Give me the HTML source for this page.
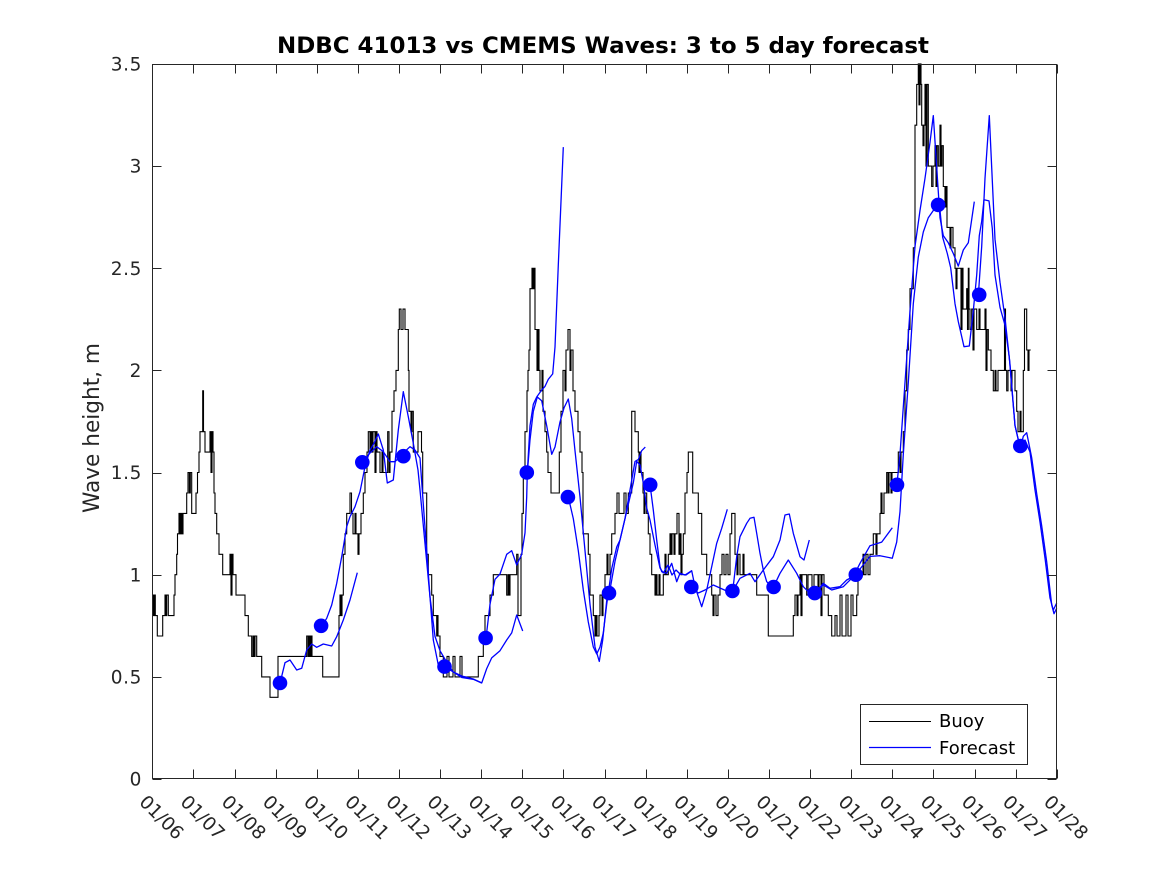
<!DOCTYPE html>
<html><head><meta charset="utf-8">
<style>
html,body{margin:0;padding:0;background:#fff;width:1167px;height:875px;overflow:hidden}
svg{display:block}
text{font-family:"DejaVu Sans","Liberation Sans",sans-serif}
</style></head>
<body>
<svg id="c" width="1167" height="875" viewBox="0 0 1167 875" xmlns="http://www.w3.org/2000/svg">
<rect width="1167" height="875" fill="#fff"/>
<text x="277" y="53" font-size="22" font-weight="bold" fill="#000" textLength="652" lengthAdjust="spacingAndGlyphs">NDBC 41013 vs CMEMS Waves: 3 to 5 day forecast</text>
<text transform="translate(99,428) rotate(-90)" text-anchor="middle" font-size="22" fill="#262626" textLength="170" lengthAdjust="spacingAndGlyphs">Wave height, m</text>
</svg>
<script>
(function(){
const NS="http://www.w3.org/2000/svg";
const svg=document.getElementById('c');
function el(tag,attrs,parent,text){const e=document.createElementNS(NS,tag);for(const k in attrs)e.setAttribute(k,attrs[k]);if(text!==undefined)e.textContent=text;(parent||svg).appendChild(e);return e;}
const yv=v=>779-v*204.3;
const XL=152.5,XR=1056.5,YB=778.5,YT=64.5;

const g=el('g',{});

// Buoy
const B=[[152.3,0.9],[153.5,0.8],[154.5,0.9],[155.3,0.8],[157.3,0.7],[162.7,0.8],[165,0.9],[166,0.8],[166.7,0.9],[168.3,0.8],[174,0.9],[175,1.0],[176.7,1.1],[177.5,1.2],[179,1.3],[180,1.2],[181,1.3],[182,1.2],[183,1.3],[186.7,1.4],[188,1.5],[189.3,1.4],[190.3,1.5],[191.7,1.3],[196,1.4],[197.5,1.5],[199,1.6],[200,1.7],[202.7,1.9],[203.5,1.7],[205,1.6],[207.3,1.6],[210,1.7],[211,1.5],[212,1.7],[213,1.6],[214,1.4],[215,1.3],[216.7,1.2],[219,1.1],[222.7,1.0],[230,1.1],[231,0.9],[232,1.1],[233,1.0],[236,0.9],[245,0.8],[248.3,0.7],[251.7,0.6],[253,0.7],[254,0.6],[255,0.7],[256.7,0.6],[261.7,0.5],[270,0.4],[278,0.6],[306.7,0.7],[308,0.6],[309,0.7],[310,0.6],[311,0.7],[312,0.6],[322.7,0.5],[339,0.8],[340,0.9],[341,0.8],[342,0.9],[343.3,1.1],[345,1.2],[346.7,1.3],[350,1.4],[351.5,1.3],[353,1.2],[355,1.3],[356,1.2],[358,1.1],[359,1.2],[361,1.3],[363.3,1.4],[365,1.5],[367,1.6],[368.3,1.7],[370,1.6],[371,1.7],[372,1.6],[373,1.7],[375,1.5],[376,1.7],[377,1.6],[380,1.5],[382,1.6],[383,1.5],[387.7,1.7],[389,1.5],[390,1.6],[392,1.8],[394,1.9],[396,2.0],[398.3,2.2],[399.3,2.3],[401,2.2],[403,2.3],[405,2.2],[408.3,2.0],[409,1.8],[411,1.7],[412,1.8],[413.3,1.6],[418,1.7],[421.5,1.6],[422.7,1.4],[426.7,1.1],[428.3,1.0],[431.7,0.9],[433.3,0.8],[436.7,0.7],[437.3,0.8],[438,0.7],[440,0.6],[443.3,0.5],[447,0.6],[449,0.5],[453,0.6],[455,0.5],[460,0.6],[462,0.5],[478.3,0.6],[483.3,0.7],[485,0.8],[490,0.9],[493.3,1.0],[506.7,0.9],[508,1.0],[509,0.9],[510,1.0],[516.7,1.1],[518,0.8],[521,1.1],[522,1.3],[523.3,1.5],[525,1.7],[527,1.9],[528,2.0],[529,2.1],[530,2.4],[532,2.5],[533,2.4],[534,2.5],[535,2.2],[537,2.0],[538,2.2],[539,2.0],[540,1.9],[542,2.0],[543,1.8],[545,1.7],[546.7,1.6],[548,1.5],[551,1.4],[559.3,1.6],[561,1.8],[563,2.0],[565,1.9],[566,2.1],[568,2.2],[570,2.0],[571,2.1],[573,1.9],[575,1.8],[578,1.7],[580,1.6],[582,1.5],[583,1.2],[588.3,1.1],[590,0.9],[593.3,0.8],[595,0.7],[596,0.8],[597,0.7],[599,0.8],[600,0.9],[602,0.8],[603,0.9],[605,1.0],[607,1.1],[608,1.0],[610,1.1],[611.7,1.2],[615,1.3],[617,1.4],[619,1.3],[624,1.4],[626,1.3],[628.3,1.4],[631.7,1.8],[635,1.7],[638.3,1.6],[639,1.5],[640,1.6],[641,1.5],[643,1.4],[644,1.3],[645,1.4],[646.7,1.3],[648.3,1.2],[650,1.1],[651.7,1.0],[655,0.9],[656,1.0],[657,0.9],[659,1.0],[660,0.9],[663.3,1.0],[665,1.1],[666,1.0],[668.3,1.1],[670,1.2],[671,1.1],[672,1.2],[674,1.1],[675,1.2],[677,1.3],[679,1.1],[680,1.2],[681,1.0],[682,1.1],[683.3,1.2],[685,1.4],[687,1.5],[688.3,1.6],[692.7,1.4],[698.3,1.3],[701.7,1.1],[706.7,1.0],[711.7,0.9],[713,0.8],[714,0.9],[716,0.8],[718,0.9],[720,1.0],[722,1.1],[724,1.0],[726,1.1],[728,1.0],[730,1.2],[731.7,1.3],[735,1.1],[737,1.0],[738,1.1],[740,1.0],[743,1.1],[744,1.0],[756.7,0.9],[768.3,0.7],[793.3,0.8],[795,0.9],[797,0.8],[798,0.9],[800,1.0],[801,0.8],[802,1.0],[806.7,0.9],[808,1.0],[812,0.9],[814,1.0],[818,0.9],[819,1.0],[821,0.8],[822,1.0],[824,0.9],[828.3,0.8],[831.7,0.7],[835,0.8],[837,0.7],[840,0.9],[842,0.7],[846,0.9],[848,0.7],[851,0.9],[853,0.8],[856.7,0.9],[858,1.0],[863,1.1],[864,1.0],[866,1.1],[868,1.0],[870,1.1],[873.3,1.2],[876,1.1],[877,1.2],[880,1.3],[881,1.4],[882,1.3],[884,1.4],[886.7,1.5],[888,1.4],[889,1.5],[891,1.4],[892,1.5],[898.3,1.6],[900,1.5],[901,1.6],[903.3,1.7],[905,1.9],[906.7,2.1],[908.3,2.2],[910,2.4],[913.3,2.6],[915,3.2],[916.7,3.4],[918.3,3.5],[919,3.3],[920,3.5],[921,3.4],[921.7,3.2],[923,3.1],[924,3.2],[925,3.4],[926,3.0],[927,3.4],[928.3,3.0],[931.7,2.9],[933,3.0],[935,3.1],[936,2.9],[937,3.1],[938.3,3.0],[940,3.2],[941,3.0],[942,3.1],[943.3,2.9],[945,2.8],[946,2.9],[947,2.7],[950,2.6],[951,2.7],[953,2.6],[955,2.5],[956,2.4],[957,2.5],[960,2.5],[961,2.2],[962,2.5],[963,2.3],[966.7,2.4],[967.5,2.2],[968.3,2.5],[969,2.3],[970,2.2],[971.7,2.3],[973,2.1],[974,2.3],[976.7,2.2],[979,2.3],[980,2.2],[983,2.2],[985,2.3],[986,2.0],[987,2.2],[988.3,2.1],[991,2.0],[993.3,1.9],[995,2.0],[996,1.9],[998,2.0],[1004.5,2.3],[1005.5,2.0],[1006.7,1.9],[1008,2.0],[1011,1.9],[1012,2.0],[1015,1.9],[1016.7,1.8],[1018,1.7],[1020,1.8],[1021,1.7],[1023.3,2.0],[1024.5,2.3],[1026.7,2.1],[1028,2.0],[1029,2.1]];
let d='M'+B[0][0]+' '+yv(B[0][1]).toFixed(1);
for(let i=1;i<B.length;i++){d+=' H'+B[i][0]+' V'+yv(B[i][1]).toFixed(1);}
d+=' H1030.7';
el('path',{d:d,fill:'none',stroke:'#000','stroke-width':'1.1','stroke-linejoin':'miter'},g);

// Forecast lines
const F=[
[280,683.3,285,662.7,290,660,296.7,670,301.7,668.3,306.7,650,311.7,644,316.7,647.3,323.3,644,331.7,646,336.7,636.7,343.3,620,350,600,357.3,572.7],
[321.7,626,326.7,618.3,331.7,605,336.7,583.3,341.7,556.7,346.7,526.7,350,516.7,355,506.7,360,491.7,365,466.7,370,450,374,443.3,378.3,434,383.3,450,387.3,483,393.3,480,398.3,430,403.3,391.7,408.3,416.7,413.3,443.3,418,470,420,490,425,543.6,430,597,435,636.4,440,650.7,448.3,665,453.3,672,461.7,677.5,473.3,679.3,481.7,682.9],
[362.7,462.3,370,453,376.7,446.7,383.3,451.7,390,461.7,395,461.7,403.3,453,410,446.7,415,450,420,458,423.3,504.3,426.7,550.7,430,597,433.3,640,438.3,665,445,668.6],
[445,667,453.3,672,461.7,676,473.3,679,481.7,683,486.7,668.6,491.7,657.9,500,650.7,506.7,640,511.7,632.9,516.7,615,522.7,631],
[486,638.2,490,604.3,495,579.3,500,574,506.7,554.3,511.7,550.7,516.7,565,521.7,554.3,525,532.9,526.7,497,527.3,472.9,530,425.7,533.3,404.3,536.7,397,541.7,390,545,386.4,548.3,379.3,552.7,373.9,555,347.1,558.3,265,563.3,147.1],
[527.3,472.9,530,440,533.3,411.4,537.3,397,541.7,400.7,546.7,425.7,551.7,454.3,555,447,560,422,564,407.9,568.3,399,571.7,418.6,575,450.7,580,497,585,550.7,590,604.3,595,647,599.3,661.4,602.7,640,606.7,600.7,609.3,593.6],
[568.3,497,573.3,518.6,578.3,550.7,583.3,590,588.3,622,593.3,647,596.7,654,600,647,603.3,632.9,606.7,604.3,611.7,568.6,616.7,547,620,540,625,518.6,630,490,635,461.4,638.3,459.6,641.7,450.7,645.3,447.1],
[609.3,593.6,615,561.4,620,540,626.7,511.4,633.3,482.9,636.7,461.4,640,465,643.3,482.9,646.7,507.9,650,520,655,545,660,568,663.3,573,668,565,672,575,676,570,680,574,686,575,691.7,571],
[650,484.6,653.3,510,656.7,540,660,566.7,661.7,571.7,666.7,573.3,671.7,563.3,676.7,581.7,680,573.3,685,575,691.7,570.7,695,586.7,701.7,606.7,706.7,590,711.7,566.7,716.7,543.3,721.7,528.3,727.3,509.3],
[691.7,587.3,698.3,593,705,590,713.3,585,720,588,726.7,591,732.7,591,736.7,556.7,740,536.7,746.7,523.3,750,518.3,754,517.3,756.7,533.3,760,553.3,763.3,570,766.7,581.7,773.3,588.3],
[732.7,591,740,578.3,750,573.3,755,581.7,763.3,570,773.3,556.7,780,540,785,515,789.3,514,793.3,533.3,800,556.7,804,560,809.3,540],
[773.3,587.3,780,573.3,788.3,560,796.7,573.3,803.3,586.7,810,593.3,815,593.3,823.3,583.3,830,588.3,840,586.7,846.7,580,856,575],
[815,593.3,823.3,585,831.7,590,843.3,586.7,853.3,576.7,860,563.3,870,545.7,881.7,542.1,892.3,527.8],
[856,575,860,569,870,556.4,880,555.7,892.3,558.2,896.7,542.1,900,511.6,903.3,454.3,908.3,382.6,913.3,303.7,918.3,257.1,923.3,232,928.3,217.7,933.3,210.5,938.3,207],
[896.7,486.5,900,454.3,905,382.6,910,310.9,915,246.4,920,210.5,925,178.3,930,142.4,933.3,115.6,936.7,167.5,940,217.7,943.3,235.6,948.3,242.8,953.3,253.5,958.3,266.1,963.3,250,968.3,242.8,974.3,201.6],
[938.3,207,940,210.5,942.7,237.4,947.3,253.5,950.7,267.9,955,303.7,958.3,321.6,964,346.7,969.3,346,973.3,310.9,976.7,275,979.3,235.6,981.7,221.3,984,199.8,989,200.9,992.3,228.5,995,275,1000,307.3,1005,325.2,1009.3,357.5,1015,425.6,1020,447],
[978.3,295.8,981.7,246.4,985,178.3,989.3,115.6,991.7,167.5,995,239.2,1000,282.2,1005,318,1010,364.5,1015,425.6,1020,447,1025,440,1030,452,1035,490,1040,522,1045,558,1050,598,1053.3,610,1056.7,603],
[1020.7,447,1023.3,436.3,1026.7,432.7,1031.7,457.8,1036.7,493.7,1041.7,525.9,1046.7,561.8,1051.7,604.8,1054,613.7,1056.7,608.3]
];
F.forEach(a=>{let p='';for(let i=0;i<a.length;i+=2)p+=(i?' ':'')+a[i]+','+a[i+1];
 el('polyline',{points:p,fill:'none',stroke:'#0000ff','stroke-width':'1.3','stroke-linejoin':'round'},g);});

// Dots
const DV=[0.47,0.75,1.55,1.58,0.55,0.69,1.50,1.38,0.91,1.44,0.94,0.92,0.94,0.91,1.00,1.44,2.81,2.37,1.63];
DV.forEach((v,k)=>el('circle',{cx:(280+k*41.13).toFixed(1),cy:yv(v).toFixed(1),r:'7.3',fill:'#0000ff'},g));

// Axes box and ticks
const ax=el('g',{stroke:'#262626','stroke-width':'1',fill:'none'});
el('rect',{x:XL,y:YT,width:XR-XL,height:YB-YT},ax);
let td='';
for(let k=0;k<=22;k++){const x=(152.3+k*41.11).toFixed(1);const xr=Math.round(x)+0.5;
 td+=`M${xr} ${YB}V${YB-9}M${xr} ${YT}V${YT+9}`;}
for(let j=0;j<=7;j++){const y=Math.round(779-j*0.5*204.3)+0.5;
 td+=`M${XL} ${y}H${XL+9}M${XR} ${y}H${XR-9}`;}
el('path',{d:td},ax);

// Y tick labels
for(let j=0;j<=7;j++){const v=j*0.5;const y=779-v*204.3;
 const s=(v===Math.floor(v))?String(v):v.toFixed(1);
 el('text',{x:'142',y:(y+6.6).toFixed(1),'text-anchor':'end','font-size':'18.5',fill:'#262626','letter-spacing':'0.6'},svg,s);}

// X tick labels
for(let k=0;k<=22;k++){const x=152.3+k*41.11;const day=6+k;
 const s='01/'+(day<10?'0'+day:String(day));
 el('text',{transform:`translate(${(x-14).toFixed(1)},803) rotate(45)`,'font-size':'18.5',fill:'#262626'},svg,s);}

// Legend
const lg=el('g',{});
el('rect',{x:'860.5',y:'704.5',width:'167',height:'60',fill:'#fff',stroke:'#262626','stroke-width':'1'},lg);
el('line',{x1:'869',y1:'721.5',x2:'931',y2:'721.5',stroke:'#000','stroke-width':'1.1'},lg);
el('line',{x1:'869',y1:'747.5',x2:'931',y2:'747.5',stroke:'#0000ff','stroke-width':'1.3'},lg);
el('text',{x:'939',y:'727','font-size':'18',fill:'#000'},lg,'Buoy');
el('text',{x:'939',y:'754','font-size':'18',fill:'#000'},lg,'Forecast');
})();
</script>
</body></html>
